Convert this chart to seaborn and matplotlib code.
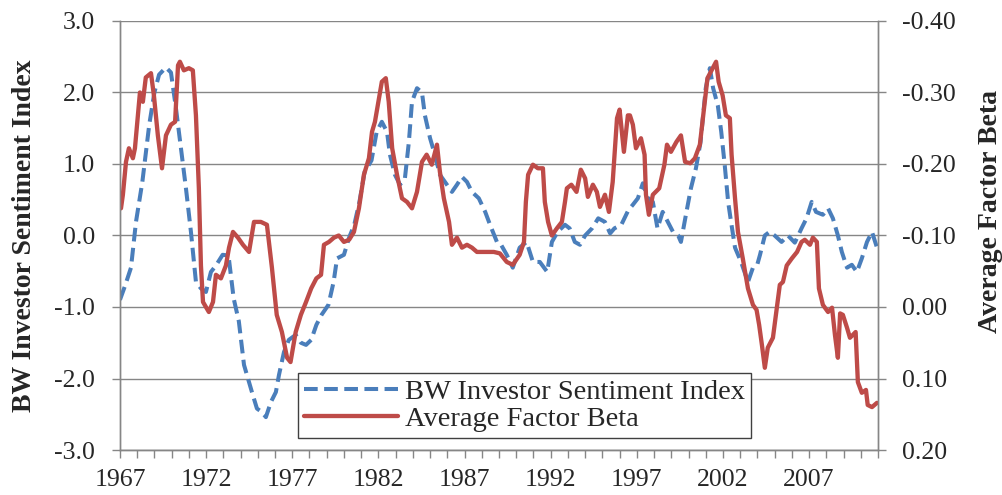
import matplotlib
matplotlib.use("Agg")
import matplotlib.pyplot as plt
import seaborn as sns
import pandas as pd
from matplotlib.ticker import FixedLocator, FormatStrFormatter, MultipleLocator

# ---- data ----
sent_year = [1967.0, 1967.3, 1967.64, 1967.93, 1968.3, 1968.7, 1969.0, 1969.27, 1969.67, 1969.96,
             1970.25, 1970.54, 1970.83, 1971.12, 1971.41, 1971.7, 1971.99, 1972.28, 1972.57, 1972.96,
             1973.3, 1973.6, 1973.9, 1974.2, 1974.37, 1974.66, 1974.95, 1975.24, 1975.47, 1975.76,
             1976.05, 1976.23, 1976.52, 1976.8, 1977.2, 1977.5, 1977.8, 1978.1, 1978.4, 1978.7,
             1979.1, 1979.4, 1979.6, 1980.0, 1980.3, 1980.6, 1980.9, 1981.2, 1981.6, 1981.9,
             1982.2, 1982.5, 1982.67, 1982.96, 1983.25, 1983.54, 1983.77, 1983.95, 1984.24, 1984.53,
             1984.7, 1985.0, 1985.28, 1985.57, 1985.98, 1986.27, 1986.56, 1986.85, 1987.14, 1987.43,
             1987.83, 1988.2, 1988.48, 1988.88, 1989.05, 1989.45, 1989.8, 1990.2, 1990.6, 1990.97,
             1991.37, 1991.8, 1992.07, 1992.4, 1992.83, 1993.1, 1993.4, 1993.7, 1994.0, 1994.4,
             1994.76, 1995.15, 1995.45, 1995.7, 1996.1, 1996.5, 1996.77, 1997.06, 1997.35, 1997.64,
             1997.93, 1998.2, 1998.5, 1998.8, 1999.1, 1999.4, 1999.56, 1999.85, 2000.14, 2000.43,
             2000.7, 2001.0, 2001.24, 2001.43, 2001.7, 2001.9, 2002.1, 2002.3, 2002.47, 2002.7,
             2003.05, 2003.45, 2003.74, 2004.0, 2004.15, 2004.43, 2004.7, 2005.0, 2005.4, 2005.77,
             2006.17, 2006.56, 2006.85, 2007.15, 2007.4, 2007.8, 2008.1, 2008.38, 2008.67, 2008.9,
             2009.2, 2009.48, 2009.77, 2010.06, 2010.36, 2010.65, 2010.94]
sentiment = [-0.90, -0.70, -0.45, 0.19, 0.75, 1.55, 2.00, 2.25, 2.35, 2.28,
             1.78, 1.22, 0.66, 0.05, -0.65, -0.74, -0.79, -0.51, -0.42, -0.27,
             -0.28, -0.88, -1.20, -1.81, -1.95, -2.19, -2.42, -2.47, -2.54, -2.33,
             -2.19, -1.95, -1.63, -1.46, -1.39, -1.50, -1.53, -1.46, -1.25, -1.11,
             -0.97, -0.65, -0.32, -0.27, -0.03, 0.15, 0.47, 0.89, 1.05, 1.45,
             1.59, 1.45, 1.13, 0.85, 0.71, 0.80, 1.31, 1.87, 2.06, 2.00,
             1.68, 1.36, 1.13, 0.85, 0.71, 0.61, 0.71, 0.82, 0.75, 0.61,
             0.52, 0.33, 0.15, -0.09, -0.10, -0.27, -0.45, -0.17, -0.09, -0.37,
             -0.37, -0.51, -0.09, 0.05, 0.15, 0.10, -0.09, -0.13, 0.00, 0.10,
             0.24, 0.19, 0.03, 0.10, 0.15, 0.35, 0.43, 0.52, 0.73, 0.52,
             0.47, 0.10, 0.33, 0.19, 0.05, 0.00, -0.09, 0.29, 0.66, 0.94,
             1.31, 2.06, 2.34, 2.06, 1.82, 1.45, 0.99, 0.47, 0.19, -0.17,
             -0.37, -0.65, -0.45, -0.40, -0.27, 0.00, 0.05, 0.00, -0.09, 0.00,
             -0.10, 0.10, 0.24, 0.47, 0.33, 0.29, 0.38, 0.24, 0.00, -0.23,
             -0.45, -0.41, -0.51, -0.32, -0.09, 0.05, -0.17]

beta_year = [1967.06, 1967.17, 1967.35, 1967.52, 1967.75, 1967.87, 1968.04, 1968.16, 1968.33, 1968.5,
             1968.8, 1968.97, 1969.2, 1969.44, 1969.67, 1969.96, 1970.2, 1970.37, 1970.48, 1970.71,
             1971.0, 1971.23, 1971.41, 1971.58, 1971.7, 1971.82, 1972.16, 1972.4, 1972.57, 1972.86,
             1973.15, 1973.33, 1973.56, 1973.85, 1974.14, 1974.49, 1974.78, 1975.18, 1975.53, 1975.82,
             1976.1, 1976.4, 1976.7, 1976.9, 1977.2, 1977.5, 1977.8, 1978.1, 1978.4, 1978.67,
             1978.84, 1979.13, 1979.42, 1979.7, 1980.0, 1980.3, 1980.58, 1980.87, 1981.16, 1981.45,
             1981.63, 1981.8, 1982.0, 1982.2, 1982.43, 1982.6, 1982.8, 1983.08, 1983.37, 1983.66,
             1983.95, 1984.24, 1984.53, 1984.8, 1985.1, 1985.4, 1985.57, 1985.8, 1986.1, 1986.27,
             1986.56, 1986.85, 1987.14, 1987.43, 1987.72, 1988.2, 1988.7, 1989.05, 1989.45, 1989.8,
             1990.2, 1990.45, 1990.56, 1990.69, 1990.97, 1991.26, 1991.55, 1991.66, 1991.85, 1992.07,
             1992.36, 1992.65, 1992.83, 1992.94, 1993.2, 1993.5, 1993.75, 1994.0, 1994.16, 1994.45,
             1994.68, 1994.86, 1995.15, 1995.38, 1995.6, 1995.85, 1996.0, 1996.25, 1996.48, 1996.6,
             1996.77, 1996.95, 1997.24, 1997.45, 1997.53, 1997.7, 1997.93, 1998.3, 1998.6, 1998.75,
             1998.98, 1999.3, 1999.56, 1999.8, 2000.1, 2000.37, 2000.66, 2000.9, 2001.1, 2001.4,
             2001.6, 2001.75, 2001.98, 2002.17, 2002.4, 2002.5, 2002.7, 2002.87, 2003.15, 2003.45,
             2003.74, 2003.95, 2004.1, 2004.26, 2004.43, 2004.6, 2004.9, 2005.13, 2005.3, 2005.48,
             2005.7, 2006.0, 2006.3, 2006.56, 2006.75, 2007.05, 2007.22, 2007.45, 2007.57, 2007.8,
             2008.1, 2008.33, 2008.5, 2008.67, 2008.8, 2008.96, 2009.2, 2009.37, 2009.54, 2009.7,
             2009.83, 2010.06, 2010.3, 2010.4, 2010.65, 2010.94]
factor_beta = [-0.138, -0.157, -0.203, -0.222, -0.208, -0.222, -0.268, -0.300, -0.287, -0.321,
               -0.327, -0.296, -0.240, -0.194, -0.240, -0.255, -0.259, -0.338, -0.343, -0.331,
               -0.334, -0.331, -0.268, -0.166, -0.058, -0.007, 0.007, -0.007, -0.045, -0.040,
               -0.058, -0.083, -0.105, -0.097, -0.087, -0.077, -0.119, -0.119, -0.115, -0.055,
               0.011, 0.035, 0.071, 0.077, 0.035, 0.011, -0.007, -0.026, -0.040, -0.045,
               -0.087, -0.091, -0.097, -0.100, -0.091, -0.094, -0.105, -0.138, -0.185, -0.208,
               -0.245, -0.259, -0.287, -0.315, -0.320, -0.287, -0.222, -0.185, -0.152, -0.147,
               -0.138, -0.161, -0.203, -0.213, -0.199, -0.227, -0.189, -0.152, -0.119, -0.087,
               -0.097, -0.083, -0.087, -0.083, -0.077, -0.077, -0.077, -0.075, -0.063, -0.059,
               -0.073, -0.091, -0.147, -0.185, -0.199, -0.194, -0.194, -0.147, -0.119, -0.100,
               -0.110, -0.119, -0.147, -0.166, -0.171, -0.161, -0.192, -0.180, -0.154, -0.171,
               -0.161, -0.140, -0.157, -0.133, -0.175, -0.264, -0.276, -0.217, -0.268, -0.268,
               -0.255, -0.222, -0.236, -0.213, -0.157, -0.129, -0.157, -0.166, -0.199, -0.227,
               -0.217, -0.231, -0.240, -0.203, -0.201, -0.208, -0.227, -0.278, -0.320, -0.334,
               -0.343, -0.315, -0.296, -0.268, -0.264, -0.213, -0.152, -0.105, -0.068, -0.026,
               -0.003, 0.004, 0.025, 0.053, 0.085, 0.057, 0.043, 0.001, -0.031, -0.035,
               -0.058, -0.068, -0.077, -0.091, -0.094, -0.087, -0.097, -0.091, -0.026, -0.003,
               0.007, 0.001, 0.039, 0.071, 0.009, 0.011, 0.029, 0.043, 0.039, 0.035,
               0.105, 0.120, 0.116, 0.137, 0.140, 0.134]

left_ticks = [-3.0, -2.0, -1.0, 0.0, 1.0, 2.0, 3.0]
right_ticks = [-0.40, -0.30, -0.20, -0.10, 0.00, 0.10, 0.20]
year_labels = [1967, 1972, 1977, 1982, 1987, 1992, 1997, 2002, 2007]
label_sent = "BW Investor Sentiment Index"
label_beta = "Average Factor Beta"

# ---- style ----
sns.set_style("white")
plt.rcParams["font.family"] = ["Liberation Serif", "DejaVu Serif"]
plt.rcParams["axes.unicode_minus"] = False
FS = 18.5
FS_LAB = 20.0
FS_LEG = 20.5
GRID = "#868686"
BLUE = "#4A7EBB"
RED = "#BE4B48"

df_s = pd.DataFrame({"year": sent_year, "value": sentiment})
df_b = pd.DataFrame({"year": beta_year, "value": factor_beta})

fig = plt.figure(figsize=(10.03, 4.95), dpi=100)
ax = fig.add_axes([0.1196, 0.0909, 0.7558, 0.8667])
ax2 = ax.twinx()

sns.lineplot(data=df_s, x="year", y="value", ax=ax, color=BLUE, linewidth=2.9,
             linestyle=(0, (3.4, 1.6)), dash_capstyle="butt", label=label_sent)
sns.lineplot(data=df_b, x="year", y="value", ax=ax2, color=RED, linewidth=3.1,
             label=label_beta)
for a in (ax, ax2):
    if a.get_legend() is not None:
        a.get_legend().remove()

ax.set_xlim(1967, 2011)
ax.set_ylim(-3, 3)
ax2.set_ylim(0.20, -0.40)

ax.yaxis.set_major_locator(FixedLocator(left_ticks))
ax.yaxis.set_major_formatter(FormatStrFormatter("%.1f"))
ax2.yaxis.set_major_locator(FixedLocator(right_ticks))
ax2.yaxis.set_major_formatter(FormatStrFormatter("%.2f"))
ax.xaxis.set_major_locator(FixedLocator(year_labels))
ax.xaxis.set_major_formatter(FormatStrFormatter("%d"))
ax.xaxis.set_minor_locator(MultipleLocator(1))

ax.grid(axis="y", color=GRID, linewidth=1.0)
ax.set_axisbelow(True)
ax2.grid(False)

for a in (ax, ax2):
    a.spines["top"].set_visible(False)
    for side in ("left", "right", "bottom"):
        a.spines[side].set_color(GRID)
        a.spines[side].set_linewidth(1.0)

ax.tick_params(axis="x", which="both", direction="out", length=6, width=1.0, color=GRID,
               labelsize=FS, pad=8, bottom=True)
ax.tick_params(axis="y", direction="out", length=6, width=1.0, color=GRID,
               labelsize=FS, pad=12, left=True)
ax2.tick_params(axis="y", direction="out", length=6, width=1.0, color=GRID,
                labelsize=FS, pad=11, right=True)

ax.set_xlabel("")
ax.set_ylabel(label_sent, fontsize=FS_LAB, fontweight="bold", labelpad=12)
ax2.set_ylabel(label_beta, fontsize=FS_LAB, fontweight="bold", labelpad=14)
ax2.yaxis.set_label_coords(1.132, 0.555)

handles = [ax.get_lines()[0], ax2.get_lines()[0]]
leg = ax2.legend(handles, [label_sent, label_beta], loc="lower left",
                 bbox_to_anchor=(0.235, 0.028), fontsize=FS_LEG, frameon=True, fancybox=False,
                 framealpha=1, edgecolor="#404040", handlelength=3.3, handletextpad=0.25,
                 labelspacing=0.05, borderpad=0.2, borderaxespad=0)
leg.get_frame().set_linewidth(1.0)

fig.savefig("out.png", dpi=100)
